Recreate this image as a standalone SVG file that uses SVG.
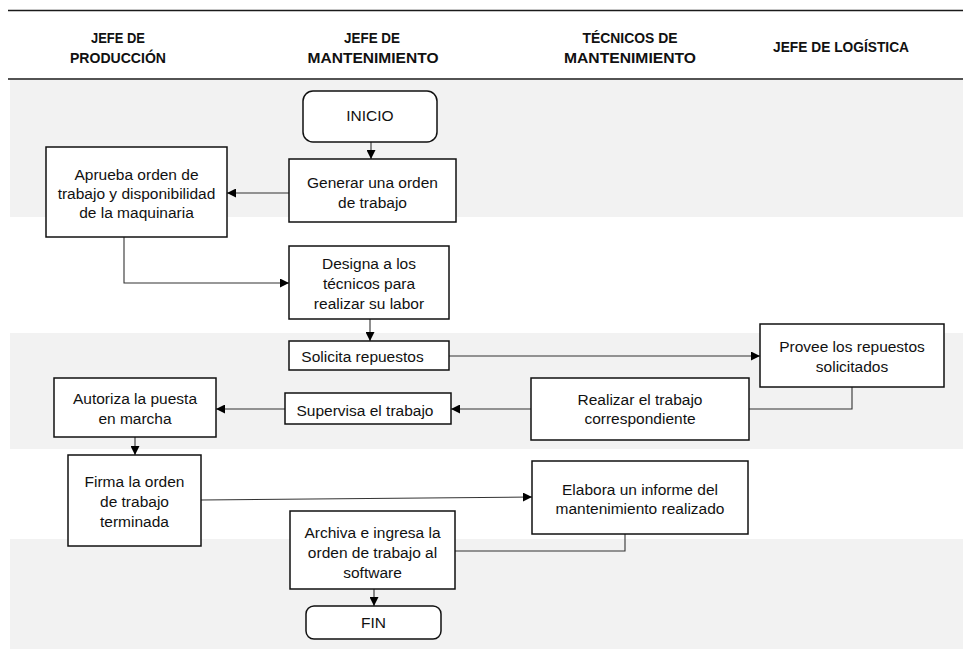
<svg xmlns="http://www.w3.org/2000/svg" width="963" height="651" viewBox="0 0 963 651">
  <style>
    .band { fill: #f2f2f2; stroke: none; }
    .rule { stroke: #1a1a1a; stroke-width: 1.3; fill: none; }
    .head { font-family: "Liberation Sans", Arial, sans-serif; font-size: 15px; font-weight: bold; fill: #111; text-anchor: middle; }
    .box { fill: #ffffff; stroke: #111; stroke-width: 1.5; }
    .txt { font-family: "Liberation Sans", Arial, sans-serif; font-size: 15.5px; fill: #111; text-anchor: middle; }
    .conn { fill: none; stroke: #333; stroke-width: 1.1; }
  </style>
  <defs>
    <marker id="arrow" markerUnits="userSpaceOnUse" markerWidth="9" markerHeight="9" refX="9" refY="4.5" orient="auto">
      <path d="M0,0 L9,4.5 L0,9 z" fill="#000"/>
    </marker>
  </defs>

  <!-- swimlane row bands -->
  <g id="bands">
    <rect class="band" x="10" y="80" width="953" height="137"/>
    <rect class="band" x="10" y="333" width="953" height="116"/>
    <rect class="band" x="10" y="539" width="953" height="110"/>
  </g>

  <!-- header -->
  <g id="header">
    <line class="rule" x1="8" y1="10.5" x2="963" y2="10.5"/>
    <line class="rule" x1="8" y1="79" x2="963" y2="79"/>
    <text class="head" x="118" y="43" textLength="54" lengthAdjust="spacingAndGlyphs">JEFE DE</text>
    <text class="head" x="118" y="63" textLength="96" lengthAdjust="spacingAndGlyphs">PRODUCCIÓN</text>
    <text class="head" x="372" y="43" textLength="56" lengthAdjust="spacingAndGlyphs">JEFE DE</text>
    <text class="head" x="373" y="63" textLength="131" lengthAdjust="spacingAndGlyphs">MANTENIMIENTO</text>
    <text class="head" x="630" y="43" textLength="95" lengthAdjust="spacingAndGlyphs">TÉCNICOS DE</text>
    <text class="head" x="630" y="63" textLength="132" lengthAdjust="spacingAndGlyphs">MANTENIMIENTO</text>
    <text class="head" x="841" y="52" textLength="136" lengthAdjust="spacingAndGlyphs">JEFE DE LOGÍSTICA</text>
  </g>

  <!-- connectors -->
  <g id="connectors">
    <line class="conn" x1="371" y1="142" x2="371" y2="159" marker-end="url(#arrow)"/>
    <line class="conn" x1="289" y1="193" x2="227" y2="193" marker-end="url(#arrow)"/>
    <path class="conn" d="M124,237 V283 H289" marker-end="url(#arrow)"/>
    <line class="conn" x1="370" y1="319" x2="370" y2="341" marker-end="url(#arrow)"/>
    <line class="conn" x1="449" y1="356" x2="760" y2="356" marker-end="url(#arrow)"/>
    <path class="conn" d="M852,387 V409 H749"/>
    <line class="conn" x1="531" y1="409" x2="451" y2="409" marker-end="url(#arrow)"/>
    <line class="conn" x1="285" y1="409" x2="216" y2="409" marker-end="url(#arrow)"/>
    <line class="conn" x1="135" y1="437" x2="135" y2="455" marker-end="url(#arrow)"/>
    <line class="conn" x1="201" y1="500" x2="532" y2="497" marker-end="url(#arrow)"/>
    <path class="conn" d="M625,534 V551 H455"/>
    <line class="conn" x1="374" y1="589" x2="374" y2="606" marker-end="url(#arrow)"/>
  </g>

  <!-- process nodes -->
  <g id="inicio">
    <rect class="box" x="303" y="91" width="134" height="51" rx="10"/>
    <text class="txt" x="370" y="121">INICIO</text>
  </g>
  <g id="generar">
    <rect class="box" x="289" y="159" width="167" height="63"/>
    <text class="txt" x="372.5" y="188">Generar una orden</text>
    <text class="txt" x="372.5" y="208">de trabajo</text>
  </g>
  <g id="aprueba">
    <rect class="box" x="46" y="147" width="181" height="90"/>
    <text class="txt" x="136.5" y="180">Aprueba orden de</text>
    <text class="txt" x="136.5" y="199">trabajo y disponibilidad</text>
    <text class="txt" x="136.5" y="218">de la maquinaria</text>
  </g>
  <g id="designa">
    <rect class="box" x="289" y="246" width="160" height="73"/>
    <text class="txt" x="369" y="269">Designa a los</text>
    <text class="txt" x="369" y="289">técnicos para</text>
    <text class="txt" x="369" y="309">realizar su labor</text>
  </g>
  <g id="solicita">
    <rect class="box" x="289" y="341" width="160" height="29"/>
    <text class="txt" x="362.5" y="362">Solicita repuestos</text>
  </g>
  <g id="provee">
    <rect class="box" x="760" y="324" width="184" height="63"/>
    <text class="txt" x="852" y="352">Provee los repuestos</text>
    <text class="txt" x="852" y="372">solicitados</text>
  </g>
  <g id="realizar">
    <rect class="box" x="531" y="378" width="218" height="62"/>
    <text class="txt" x="640" y="405">Realizar el trabajo</text>
    <text class="txt" x="640" y="424">correspondiente</text>
  </g>
  <g id="supervisa">
    <rect class="box" x="285" y="393" width="166" height="31"/>
    <text class="txt" x="365" y="416">Supervisa el trabajo</text>
  </g>
  <g id="autoriza">
    <rect class="box" x="54" y="378" width="162" height="59"/>
    <text class="txt" x="135" y="404">Autoriza la puesta</text>
    <text class="txt" x="135" y="424">en marcha</text>
  </g>
  <g id="firma">
    <rect class="box" x="68" y="455" width="133" height="91"/>
    <text class="txt" x="134.5" y="487">Firma la orden</text>
    <text class="txt" x="134.5" y="507">de trabajo</text>
    <text class="txt" x="134.5" y="527">terminada</text>
  </g>
  <g id="elabora">
    <rect class="box" x="532" y="461" width="216" height="73"/>
    <text class="txt" x="640" y="495">Elabora un informe del</text>
    <text class="txt" x="640" y="514">mantenimiento realizado</text>
  </g>
  <g id="archiva">
    <rect class="box" x="290" y="511" width="165" height="78"/>
    <text class="txt" x="372.5" y="538">Archiva e ingresa la</text>
    <text class="txt" x="372.5" y="558">orden de trabajo al</text>
    <text class="txt" x="372.5" y="578">software</text>
  </g>
  <g id="fin">
    <rect class="box" x="306" y="606" width="135" height="33" rx="8"/>
    <text class="txt" x="373.5" y="628">FIN</text>
  </g>
</svg>
